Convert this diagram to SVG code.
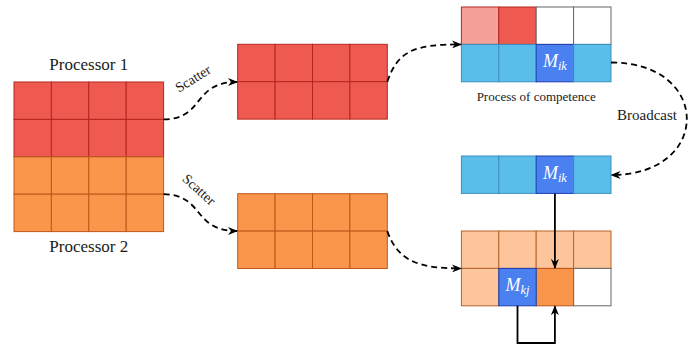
<svg xmlns="http://www.w3.org/2000/svg" width="697" height="344" viewBox="0 0 697 344">
<style>
.r{fill:#ef5a50;stroke:#b3261e;stroke-width:1}
.lr{fill:#f4a19a;stroke:#b3261e;stroke-width:1}
.o{fill:#f9964b;stroke:#c0561a;stroke-width:1}
.lo{fill:#fdc59b;stroke:#b8642a;stroke-width:1}
.b{fill:#5bbde9;stroke:#3a8fbf;stroke-width:1}
.db{fill:#4a80f0;stroke:#1c3fb0;stroke-width:1}
.w{fill:#fff;stroke:#666;stroke-width:1}
.t{font-family:"Liberation Serif",serif;fill:#1a1a1a}
.m{font-family:"Liberation Serif",serif;fill:#fff;font-style:italic}
.d{fill:none;stroke:#000;stroke-width:1.8;stroke-dasharray:6,4}
.s{fill:none;stroke:#000;stroke-width:1.8}
</style>
<defs>
<marker id="ah" viewBox="0 0 10 8" refX="9" refY="4" markerWidth="10" markerHeight="8" markerUnits="userSpaceOnUse" orient="auto">
<path d="M0,0 L10,4 L0,8 L3,4 z" fill="#000"/>
</marker>
</defs>
<rect width="697" height="344" fill="#fff"/>

<g id="processor1-matrix">
<rect class="r" x="14" y="82" width="37.4" height="37.4"/><rect class="r" x="51.4" y="82" width="37.4" height="37.4"/><rect class="r" x="88.8" y="82" width="37.4" height="37.4"/><rect class="r" x="126.2" y="82" width="37.4" height="37.4"/>
<rect class="r" x="14" y="119.4" width="37.4" height="37.4"/><rect class="r" x="51.4" y="119.4" width="37.4" height="37.4"/><rect class="r" x="88.8" y="119.4" width="37.4" height="37.4"/><rect class="r" x="126.2" y="119.4" width="37.4" height="37.4"/>
<rect class="o" x="14" y="156.8" width="37.4" height="37.4"/><rect class="o" x="51.4" y="156.8" width="37.4" height="37.4"/><rect class="o" x="88.8" y="156.8" width="37.4" height="37.4"/><rect class="o" x="126.2" y="156.8" width="37.4" height="37.4"/>
<rect class="o" x="14" y="194.2" width="37.4" height="37.4"/><rect class="o" x="51.4" y="194.2" width="37.4" height="37.4"/><rect class="o" x="88.8" y="194.2" width="37.4" height="37.4"/><rect class="o" x="126.2" y="194.2" width="37.4" height="37.4"/>
<text class="t" x="88.8" y="69.5" font-size="17" text-anchor="middle">Processor 1</text>
<text class="t" x="88.8" y="251.5" font-size="17" text-anchor="middle">Processor 2</text>
</g>

<g id="scatter-red">
<rect class="r" x="237.7" y="44.3" width="37.4" height="37.4"/><rect class="r" x="275.1" y="44.3" width="37.4" height="37.4"/><rect class="r" x="312.5" y="44.3" width="37.4" height="37.4"/><rect class="r" x="349.9" y="44.3" width="37.4" height="37.4"/>
<rect class="r" x="237.7" y="81.7" width="37.4" height="37.4"/><rect class="r" x="275.1" y="81.7" width="37.4" height="37.4"/><rect class="r" x="312.5" y="81.7" width="37.4" height="37.4"/><rect class="r" x="349.9" y="81.7" width="37.4" height="37.4"/>
</g>

<g id="scatter-orange">
<rect class="o" x="237.7" y="193.7" width="37.4" height="37.4"/><rect class="o" x="275.1" y="193.7" width="37.4" height="37.4"/><rect class="o" x="312.5" y="193.7" width="37.4" height="37.4"/><rect class="o" x="349.9" y="193.7" width="37.4" height="37.4"/>
<rect class="o" x="237.7" y="231.1" width="37.4" height="37.4"/><rect class="o" x="275.1" y="231.1" width="37.4" height="37.4"/><rect class="o" x="312.5" y="231.1" width="37.4" height="37.4"/><rect class="o" x="349.9" y="231.1" width="37.4" height="37.4"/>
</g>

<g id="process-of-competence">
<rect class="lr" x="461.4" y="7" width="37.4" height="37.4"/><rect class="r" x="498.8" y="7" width="37.4" height="37.4"/><rect class="w" x="536.2" y="7" width="37.4" height="37.4"/><rect class="w" x="573.6" y="7" width="37.4" height="37.4"/>
<rect class="b" x="461.4" y="44.4" width="37.4" height="37.4"/><rect class="b" x="498.8" y="44.4" width="37.4" height="37.4"/><rect class="db" x="536.2" y="44.4" width="37.4" height="37.4"/><rect class="b" x="573.6" y="44.4" width="37.4" height="37.4"/>
<text class="m" x="554.9" y="67" font-size="18" text-anchor="middle">M<tspan font-size="12.5" dy="3">ik</tspan></text>
<text class="t" x="536.2" y="100.5" font-size="13" text-anchor="middle">Process of competence</text>
</g>

<g id="broadcast-row">
<rect class="b" x="461.4" y="156" width="37.4" height="37.4"/><rect class="b" x="498.8" y="156" width="37.4" height="37.4"/><rect class="db" x="536.2" y="156" width="37.4" height="37.4"/><rect class="b" x="573.6" y="156" width="37.4" height="37.4"/>
<text class="m" x="554.9" y="178.6" font-size="18" text-anchor="middle">M<tspan font-size="12.5" dy="3">ik</tspan></text>
</g>

<g id="result-matrix">
<rect class="lo" x="461.4" y="231" width="37.4" height="37.4"/><rect class="lo" x="498.8" y="231" width="37.4" height="37.4"/><rect class="lo" x="536.2" y="231" width="37.4" height="37.4"/><rect class="lo" x="573.6" y="231" width="37.4" height="37.4"/>
<rect class="lo" x="461.4" y="268.4" width="37.4" height="37.4"/><rect class="w" x="573.6" y="268.4" width="37.4" height="37.4"/><rect class="o" x="536.2" y="268.4" width="37.4" height="37.4"/><rect class="db" x="498.8" y="268.4" width="37.4" height="37.4"/>
<text class="m" x="517.5" y="291" font-size="18" text-anchor="middle">M<tspan font-size="12.5" dy="3">kj</tspan></text>
</g>

<g id="connectors">
<path class="d" d="M163.6,119.4 C205,119 192,82 237,82" marker-end="url(#ah)"/>
<path class="d" d="M163.6,194.2 C205,195 192,231 237,231" marker-end="url(#ah)"/>
<path class="d" d="M387.3,81.7 C398,50 415,44.4 461,44.4" marker-end="url(#ah)"/>
<path class="d" d="M387.3,231.1 C398,262 420,268.4 461,268.4" marker-end="url(#ah)"/>
<path class="d" d="M611,62.5 C712,62.5 712,175 611.5,175" marker-end="url(#ah)"/>
<path class="s" d="M554.9,193.4 V268" marker-end="url(#ah)"/>
<path class="s" d="M517.5,305.8 V343 H554.9 V306.2" marker-end="url(#ah)"/>
<text class="t" x="0" y="0" font-size="14" text-anchor="middle" transform="translate(195.5,82.5) rotate(-32)">Scatter</text>
<text class="t" x="0" y="0" font-size="14" text-anchor="middle" transform="translate(196,193) rotate(42)">Scatter</text>
<text class="t" x="677" y="120" font-size="15" text-anchor="end">Broadcast</text>
</g>
</svg>
